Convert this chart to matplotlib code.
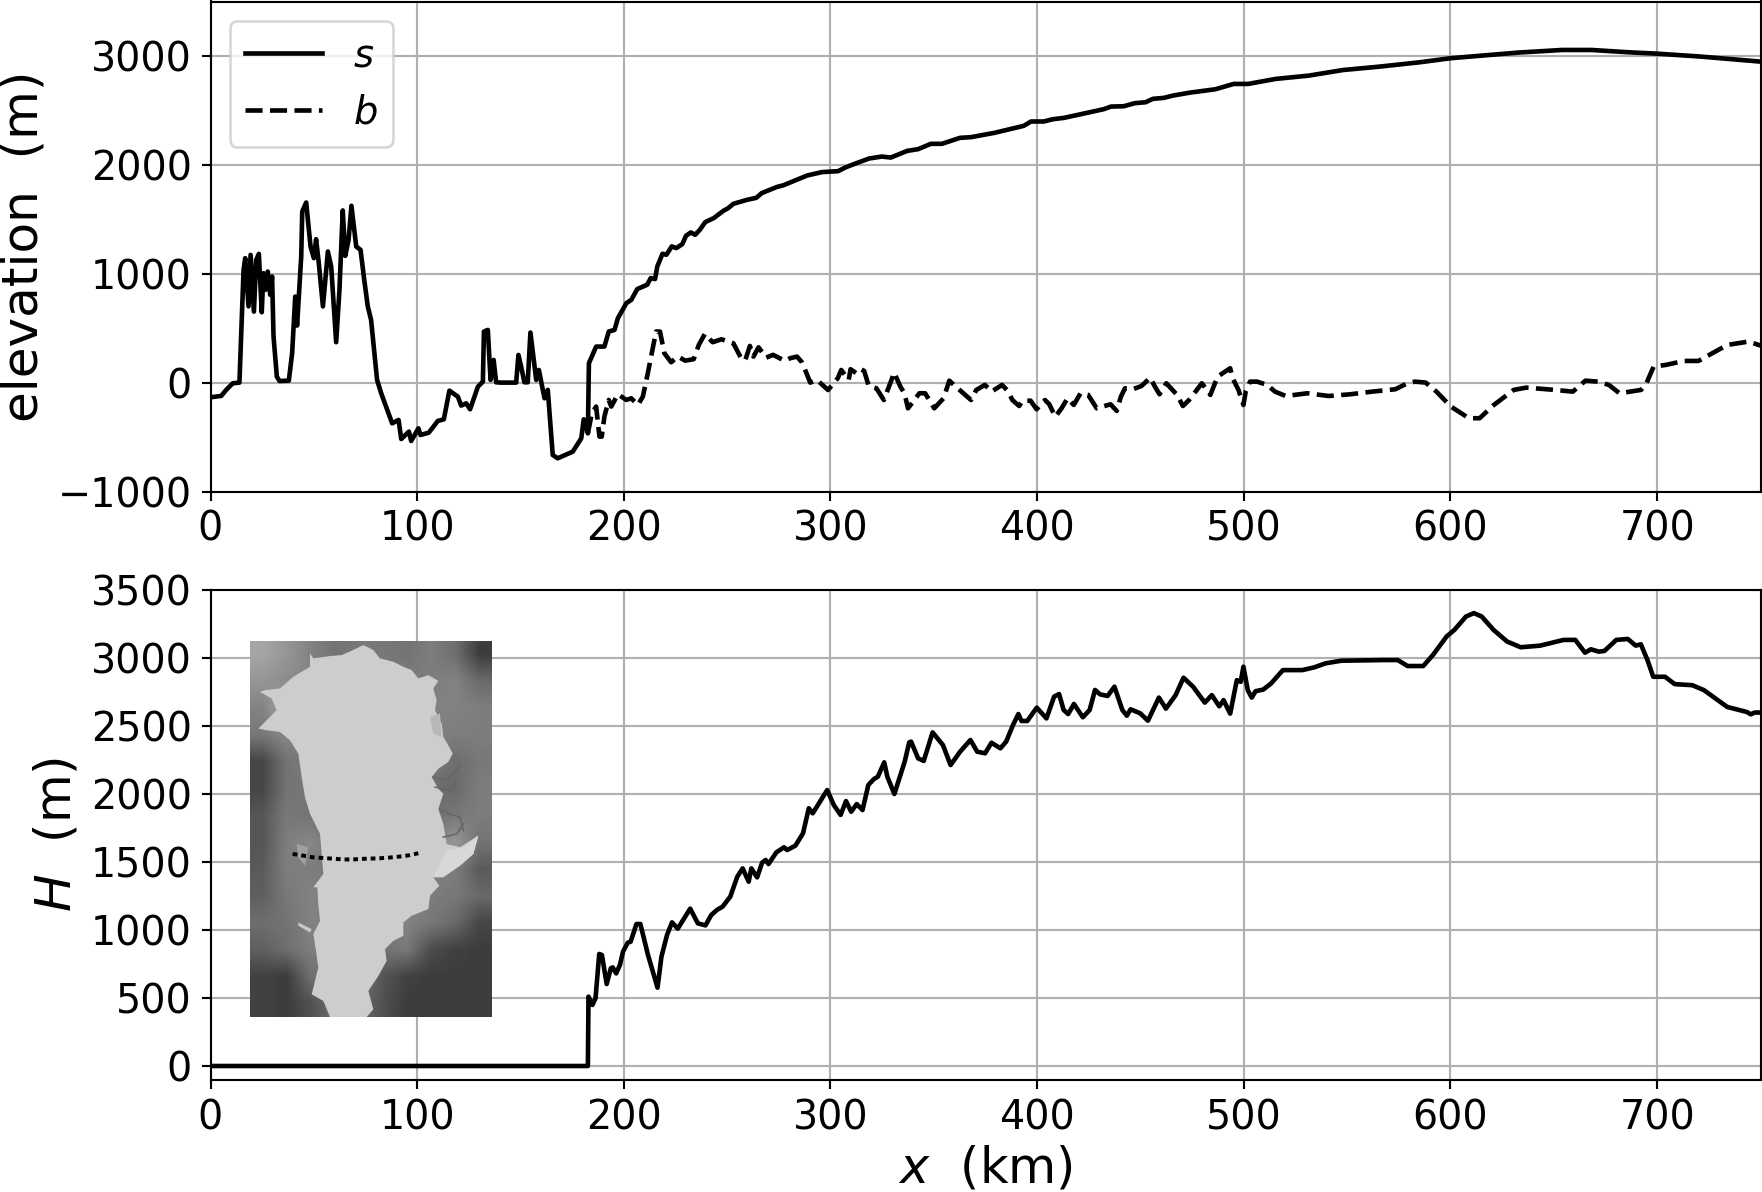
import matplotlib
matplotlib.use("Agg")
import matplotlib.pyplot as plt
from matplotlib.ticker import MultipleLocator

# ---------------------------------------------------------
# 1. Values
# ---------------------------------------------------------
x_s = [0, 5.2, 7.6, 10.8, 14, 14.8, 16, 16.8, 18.4, 19.4, 21, 22.1, 23.4, 24.8, 25.6, 26.6, 27.7, 28.9, 29.8,
       30.5, 32.1, 33.4, 37.9, 39.5, 41, 41.9, 43.9, 44.4, 46.3, 48.4, 50, 51.1, 52.4, 54.4, 56.8, 58.4, 60.8,
       62.4, 64, 65.2, 66.8, 68.2, 70.5, 72.6, 74.5, 76.1, 77.7, 80.6, 82.6, 87.9, 91, 92.3, 96, 97.1, 100.6,
       101.6, 105.6, 110, 112.9, 115.6, 119.7, 121.3, 123.7, 125.6, 129.4, 131.8, 132.3, 134.2, 135.5, 137,
       138.2, 140.6, 147.9, 149, 150.3, 151.9, 153.5, 154.8, 157.6, 158.9, 161.6, 163.2, 165.6, 168, 175.3,
       179.4, 180.6, 182.6, 183.1, 186.6, 190.6, 192.7, 195.5, 197.1, 201.2, 203.6,
       206.5, 211.3, 213, 215.1, 216.2, 218.7, 220.6, 223.2, 225.4, 228.3, 230.1, 232.4, 234.5, 236.8, 239.4,
       243.5, 248.2, 250.5, 253, 259.7, 264.1, 266.7, 273.8, 277.3, 288.7, 295.8, 303.7, 307.2, 312.5, 318.7,
       324.8, 329.2, 337.1, 342.4, 348.6, 353.9, 362.7, 368, 379.4, 393.5, 397, 403.2, 407.6, 412.9, 432.2,
       435.7, 441.9, 447.2, 452.5, 456, 461.3, 465.7, 473.9, 486.2, 495.1, 502.1, 515.4, 531.3, 548.1, 565.7,
       585.2, 600, 615.2, 632.8, 654, 668.2, 685.9, 700, 721.2, 750]
s = [-135, -122, -67, -6, 0, 423, 1035, 1143, 700, 1173, 652, 1127, 1182, 646, 1005, 852, 1020, 806, 974,
     423, 55, 15, 18, 270, 790, 524, 1158, 1572, 1654, 1250, 1143, 1317, 1097, 700, 1204, 1066, 371,
     852, 1581, 1164, 1311, 1624, 1250, 1219, 928, 700, 576, 25, -98, -374, -343, -518, -450, -536, -420,
     -481, -460, -352, -337, -74, -129, -211, -190, -245, -37, 9, 469, 484, 25, 208,
     3, 0, 0, 254, 147, 3, 3, 460, 25, 116, -144, -67, -665, -695, -634,
     -512, -337, -466, 178, 331, 331, 469, 484, 591, 729, 760,
     859, 899, 960, 951, 1067, 1183, 1174, 1251, 1235, 1272, 1349, 1379, 1358, 1404, 1474,
     1511, 1578, 1602, 1642, 1679, 1697, 1740, 1795, 1813, 1902, 1933, 1942, 1976, 2015, 2058,
     2076, 2067, 2128, 2144, 2193, 2193, 2248, 2254, 2294, 2358, 2398, 2398, 2419, 2431, 2511,
     2535, 2538, 2566, 2575, 2606, 2615, 2636, 2663, 2694, 2743, 2743, 2789, 2819, 2871, 2902,
     2942, 2979, 3003, 3031, 3055, 3055, 3034, 3021, 2994, 2948]

x_b = [182.6, 184.5, 186.6, 188.2, 189.3, 190.6, 192.7, 193.9, 197.1, 201.2, 203.6, 206.8, 209.2, 211.6, 213.2,
       215.6, 217.5, 219.6, 222.9, 226.1, 229.7, 233.8, 236.3, 239.2, 243, 247.2, 253, 257.2, 258.8, 261,
       262.7, 265.2, 268.8, 272.2, 278, 280.5, 283.8, 286.3, 290.2, 293.5, 298.8, 303.5, 305.2, 308.8, 309.7,
       312.5, 314.7, 316.3, 318.5, 322.2, 325.8, 329.2, 330.8, 333.8, 335.8, 337.5, 343, 345.8, 350.2, 354.7,
       357.5, 359.7, 368, 370.5, 374.7, 378, 383, 385.8, 388, 391.3, 393, 396.8, 399.7, 403.8, 405.8, 408.8,
       411.8, 414.7, 417.7, 421, 424.7, 428.8, 435.5, 438.5, 440.5, 442.5, 446.3, 450.5, 454.7, 456.8, 459.2,
       462.5, 467.7, 470.5, 473.5, 479.7, 483.8, 487.3, 493.4, 494.6, 497.4, 499.8, 500.9, 503, 506.4, 511.3,
       515.1, 520.3, 530.7, 541.1, 551.6, 562, 573.3, 578.5, 582.8, 588, 593.2, 600.2, 608.9, 614.1, 621,
       630.6, 636.6, 650.5, 659.2, 665.3, 671.4, 676.6, 681.8, 692.2, 694.8, 698.3, 704.3, 713, 720, 733.9,
       744.3, 750]
b = [-466, -282, -220, -496, -496, -312, -159, -220, -107, -159, -144, -205, -129, 86, 239,
     469, 469, 270, 187, 239, 202, 215, 347, 447, 371, 398, 361, 208, 208, 337,
     239, 324, 229, 255, 199, 224, 239, 184, 0, 24, -68, 40, 116, 24, 123,
     86, 123, 107, -31, -52, -160, 9, 92, -37, -98, -236, -98, -98, -236, -144,
     18, -21, -160, -68, -21, -82, -21, -76, -160, -215, -166, -166, -245, -160, -197, -313,
     -236, -144, -205, -98, -113, -236, -199, -260, -129, -52, -61, -31, 45, -31, -107,
     -6, -113, -215, -160, -6, -113, 55, 132, 40, -67, -205, -83, 9, 9, -21,
     -83, -123, -98, -123, -107, -83, -61, -12, 9, 0, -83, -220, -327, -327, -205,
     -67, -46, -67, -83, 18, 9, -21, -98, -67, -6, 147, 163, 199, 199, 346,
     377, 340]

x_H = [0, 182.6, 182.9, 184.8, 186.3, 188.1, 189.4, 191.7, 193.7, 194.6, 196.3, 198.1, 199.6, 201.9, 203.3, 206.1,
       208, 211.7, 216.3, 218.2, 220.9, 223.3, 226.1, 232.1, 235.8, 239.5, 242.3, 245, 247.8, 251.5, 254.9,
       257.5, 260.4, 261.7, 264.5, 266.9, 268.6, 270, 273.8, 277.5, 279, 283, 286.7, 289.5, 291.4, 298.4,
       301.6, 304.9, 307.5, 310, 312.7, 315.5, 318.3, 321, 322.9, 326, 327.5, 330.9, 335.9, 338.1, 339,
       342.4, 345.1, 349.4, 354.4, 358.1, 362.7, 367.7, 371, 374.8, 377.9, 382.2, 385, 388.3, 390.9, 392.4,
       395.2, 399.8, 404.5, 408.2, 410.6, 412.8, 415, 417.8, 422.1, 425.4, 428, 430.4, 434.1, 437.4, 441.2,
       443.4, 445.2, 449.9, 453.6, 458.9, 462.3, 467, 470.8, 475.5, 481.1, 484.5, 488.1, 490.2, 493.4, 496.6,
       498.5, 499.8, 501.9, 503.8, 505.7, 509.4, 513.2, 518.9, 528.3, 534, 539.6, 547.2, 567.9, 574.5, 579.2,
       586.8, 591.5, 598.1, 601.9, 607.5, 611.3, 615.1, 620.8, 627.4, 634, 643.4, 654.7, 660.4, 665.1, 667.9,
       671.7, 674.5, 680.2, 685.8, 689.6, 692.1, 695.3, 698.1, 703.8, 708.5, 717, 722.6, 733.9, 743.4, 745.3,
       747.2, 750]
H = [0, 0, 510, 449, 498, 824, 816, 603, 718, 725, 681, 743, 841, 907, 914, 1044,
     1044, 816, 576, 804, 963, 1056, 1010, 1157, 1049, 1034, 1110, 1147, 1172, 1245, 1392,
     1453, 1355, 1453, 1387, 1495, 1515, 1485, 1571, 1608, 1588, 1620, 1711, 1895, 1858, 2029,
     1919, 1846, 1948, 1870, 1926, 1882, 2066, 2110, 2127, 2233, 2127, 2000, 2238, 2380, 2385,
     2262, 2243, 2453, 2360, 2213, 2311, 2397, 2311, 2299, 2377, 2336, 2385, 2507, 2588, 2537,
     2537, 2635, 2556, 2716, 2735, 2618, 2588, 2662, 2564, 2618, 2765, 2733, 2721, 2789, 2618,
     2576, 2623, 2593, 2539, 2709, 2628, 2727, 2855, 2788, 2672, 2727, 2645, 2690, 2591, 2837,
     2825, 2936, 2764, 2709, 2756, 2768, 2813, 2911, 2911, 2931, 2961, 2980, 2985, 2985, 2941,
     2941, 3022, 3158, 3207, 3305, 3330, 3305, 3207, 3121, 3079, 3091, 3133, 3133, 3039, 3064,
     3047, 3052, 3133, 3140, 3091, 3101, 2985, 2862, 2862, 2808, 2800, 2764, 2640, 2603, 2586,
     2599, 2599]

# Inset map of Greenland, in the inset's own pixel coordinates
map_grey = [
    [165, 150, 130, 115, 120, 120, 115, 125, 110, 60],
    [150, 140, 135, 125, 125, 125, 125, 125, 130, 105],
    [130, 170, 130, 125, 125, 125, 125, 130, 130, 125],
    [120, 135, 125, 125, 125, 125, 125, 130, 125, 125],
    [70, 115, 125, 125, 125, 125, 125, 125, 110, 120],
    [70, 115, 120, 120, 125, 125, 125, 110, 105, 125],
    [85, 120, 115, 110, 125, 125, 125, 110, 120, 125],
    [85, 125, 135, 115, 125, 125, 125, 130, 150, 115],
    [90, 125, 125, 120, 125, 125, 125, 130, 125, 90],
    [95, 120, 130, 125, 125, 125, 130, 125, 120, 105],
    [110, 115, 130, 125, 125, 130, 130, 120, 105, 70],
    [95, 110, 125, 125, 125, 115, 120, 75, 65, 60],
    [65, 60, 110, 125, 125, 85, 65, 60, 60, 60],
    [65, 60, 80, 110, 110, 80, 60, 60, 60, 60],
]
ice_x = [240, 250, 300, 335, 365, 400, 430, 450, 490, 520, 545, 565, 595, 625, 610, 620, 615, 635, 640, 655, 668,
         655, 625, 605, 625, 640, 625, 640, 650, 690, 745, 730, 690, 650, 610, 628, 600, 595, 545, 520, 520, 490,
         465, 470, 445, 415, 430, 410, 300, 280, 245, 265, 258, 250, 270, 265, 262, 250, 280, 275, 270, 240, 225,
         215, 205, 180, 150, 110, 85, 110, 140, 125, 90, 105, 150, 190, 240]
ice_y = [100, 115, 108, 105, 92, 75, 90, 115, 125, 140, 150, 175, 165, 182, 205, 240, 270, 310, 350, 375, 400,
         425, 445, 470, 505, 520, 565, 610, 670, 680, 645, 700, 735, 760, 770, 795, 825, 865, 885, 905, 945, 960,
         985, 1020, 1065, 1110, 1165, 1188, 1188, 1140, 1120, 1040, 990, 940, 900, 850, 800, 800, 760, 700, 640,
         580, 530, 470, 400, 360, 335, 330, 325, 300, 270, 235, 215, 210, 205, 170, 140]
coast_x = [650, 700, 745, 730, 690, 640, 610]
coast_y = [690, 680, 645, 700, 735, 770, 770]
fjord_lines = [
    ([610, 650, 690], [470, 480, 440]),
    ([615, 660, 680], [500, 510, 480]),
    ([630, 690, 700], [570, 590, 630]),
    ([640, 680, 700], [650, 640, 610]),
]
patch_list = [
    ([600, 630, 635, 610], [290, 280, 350, 340], "#b8b8b8"),
    ([200, 235, 225, 205], [670, 680, 735, 710], "#a0a0a0"),
    ([205, 245, 240, 205], [905, 925, 935, 915], "#c8c8c8"),
]
track_x = [188, 218, 248, 276, 305, 334, 363, 392, 420, 450, 478, 508, 538, 565]
track_y = [700, 705, 710, 712, 714, 716, 717, 715, 714, 713, 711, 708, 704, 698]

# ---------------------------------------------------------
# 2. Figure and axes, placed in pixels
# ---------------------------------------------------------
W, H_FIG, DPI = 1762, 1192, 190
plt.rcParams["font.size"] = 15


def px_axes(left, top, right, bottom):
    return fig.add_axes([left / W, 1 - bottom / H_FIG, (right - left) / W, (bottom - top) / H_FIG])


fig = plt.figure(figsize=(W / DPI, H_FIG / DPI))
ax1 = px_axes(210.5, 1.5, 1760.5, 491.5)
ax2 = px_axes(210.5, 590, 1760.5, 1079.6)

# ---------------------------------------------------------
# 3. Top panel
# ---------------------------------------------------------
ax1.plot(x_s, s, color="k", lw=1.75, label="$s$")
ax1.plot(x_b, b, color="k", lw=1.75, ls="--", label="$b$")
ax1.set_xlim(0, 750)
ax1.set_ylim(-1000, 3500)
ax1.xaxis.set_major_locator(MultipleLocator(100))
ax1.yaxis.set_major_locator(MultipleLocator(1000))
ax1.grid(True)
ax1.set_ylabel("elevation  (m)", fontsize=19)
ax1.legend(loc="upper left", fontsize=14.6)

# ---------------------------------------------------------
# 4. Bottom panel
# ---------------------------------------------------------
ax2.plot(x_H, H, color="k", lw=1.75)
ax2.set_xlim(0, 750)
ax2.set_ylim(-100, 3500)
ax2.xaxis.set_major_locator(MultipleLocator(100))
ax2.yaxis.set_major_locator(MultipleLocator(500))
ax2.grid(True)
ax2.set_xlabel("$x$  (km)", fontsize=18.7, labelpad=2.5)
ax2.set_ylabel("$H$  (m)", fontsize=19)

# ---------------------------------------------------------
# 5. Inset map
# ---------------------------------------------------------
inset = px_axes(250, 640.7, 492, 1017)
inset.imshow(map_grey, cmap="gray", vmin=0, vmax=255, interpolation="bilinear",
             extent=[60, 786, 1188, 62], aspect="auto")
inset.fill(ice_x, ice_y, facecolor="#cdcdcd", edgecolor="none")
inset.fill(coast_x, coast_y, facecolor="#d8d8d8", edgecolor="none")
for fx, fy in fjord_lines:
    inset.plot(fx, fy, color="#666666", lw=0.6)
for px, py, shade in patch_list:
    inset.fill(px, py, facecolor=shade, edgecolor="none")
inset.plot(track_x, track_y, color="k", lw=1.5, ls=(0, (1.2, 1)))
inset.set_xlim(60, 786)
inset.set_ylim(1188, 62)
inset.axis("off")

fig.savefig("out.png", dpi=DPI)
